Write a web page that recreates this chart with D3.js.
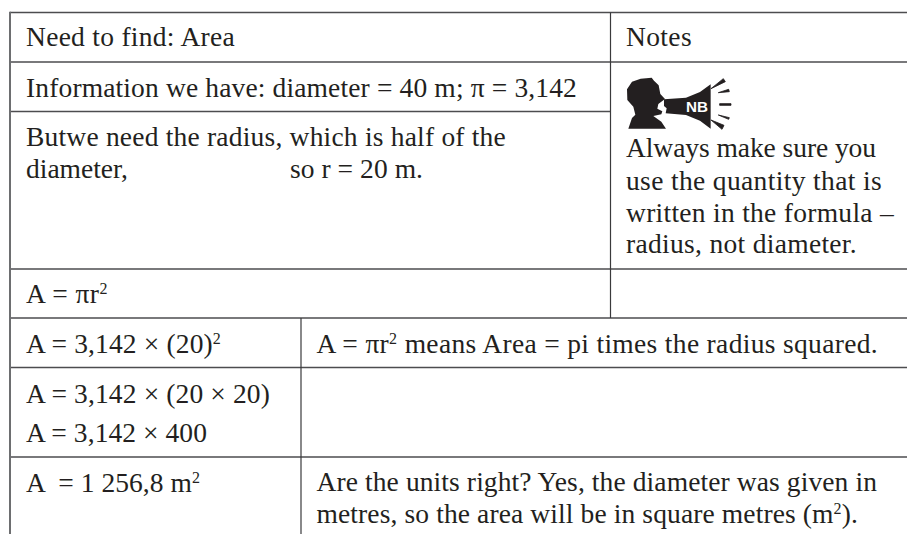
<!DOCTYPE html>
<html>
<head>
<meta charset="utf-8">
<script src="https://cdn.jsdelivr.net/npm/d3@7"></script>
<style>
  html, body { margin: 0; padding: 0; background: #fff; }
  text { font-family: "Liberation Serif", serif; font-size: 27.5px; fill: #231f20; }
</style>
</head>
<body>
<div id="chart"></div>
<script>
// table content, ^ marks a superscript
var colKeys = ["work", "explain", "notes"];
var rowKeys = ["find", "info", "radius", "formula", "sub", "expand", "answer"];

var workLines = [
  "Need to find: Area",
  "Information we have: diameter = 40 m; π = 3,142",
  "Butwe need the radius, which is half of the",
  "diameter,",
  "A = πr^2",
  "A = 3,142 × (20)^2",
  "A = 3,142 × (20 × 20)",
  "A = 3,142 × 400",
  "A  = 1 256,8 m^2"
];
var explainLines = [
  "A = πr^2 means Area = pi times the radius squared.",
  "Are the units right? Yes, the diameter was given in",
  "metres, so the area will be in square metres (m^2)."
];
var noteLines = [
  "Notes",
  "Always make sure you",
  "use the quantity that is",
  "written in the formula –",
  "radius, not diameter."
];
var gapLines = ["so r = 20 m."];

var w = 907, h = 534;

var colX = d3.scaleOrdinal(colKeys, [10, 301, 610.5]);
var rowY = d3.scaleOrdinal(rowKeys, [12.5, 62, 111.5, 269, 318, 367.5, 457]);

var workY = d3.scaleOrdinal(workLines, [46, 96.7, 145.7, 178, 303, 353, 402.7, 441.7, 491.7]);
var explainY = d3.scaleOrdinal(explainLines, [352.7, 491, 522.7]);
var noteY = d3.scaleOrdinal(noteLines, [46, 157, 190, 221.7, 253]);

// right edge of each line in the picture, the serif differs so spacing is fitted to it
var workEnd = d3.scaleOrdinal(workLines, [235, 577, 506, 128, 108, 221, 270, 207, 200]);
var explainEnd = d3.scaleOrdinal(explainLines, [878, 877, 858]);
var noteEnd = d3.scaleOrdinal(noteLines, [692, 876, 882, 894, 857]);
var gapEnd = d3.scaleOrdinal(gapLines, [423]);

var svg = d3.select("#chart").append("svg")
  .attr("width", w)
  .attr("height", h)
  .style("display", "block");

// rules
var rules = svg.append("g");
rowKeys.forEach(function(r) {
  rules.append("line")
    .attr("x1", colX("work"))
    .attr("x2", r == "radius" ? colX("notes") : w)
    .attr("y1", rowY(r))
    .attr("y2", rowY(r))
    .attr("stroke", "#4d4d4f")
    .attr("stroke-width", 1.5);
});
rules.append("line")
  .attr("x1", colX("work")).attr("x2", colX("work"))
  .attr("y1", rowY("find") - 0.7).attr("y2", h)
  .attr("stroke", "#6d6e70").attr("stroke-width", 2);
rules.append("line")
  .attr("x1", colX("notes")).attr("x2", colX("notes"))
  .attr("y1", rowY("find")).attr("y2", rowY("sub"))
  .attr("stroke", "#3a3a3c").attr("stroke-width", 1.2);
rules.append("line")
  .attr("x1", colX("explain")).attr("x2", colX("explain"))
  .attr("y1", rowY("sub")).attr("y2", h)
  .attr("stroke", "#3a3a3c").attr("stroke-width", 1.2);

function writeLine(sel, str) {
  var parts = str.split("^");
  parts.forEach(function(p, i) {
    if (i == 0) {
      sel.append("tspan").text(p);
    } else {
      sel.append("tspan").attr("dy", -9).style("font-size", "16px").text(p[0]);
      if (p.length > 1) sel.append("tspan").attr("dy", 9).text(p.slice(1));
    }
  });
}

function column(lines, x, y, end) {
  svg.append("g").selectAll("text")
    .data(lines)
    .enter()
    .append("text")
    .attr("x", x)
    .attr("y", function(d) { return y(d); })
    .style("white-space", "pre")
    .each(function(d) {
      writeLine(d3.select(this), d);
      var len = this.getComputedTextLength();
      var n = d.replace("^", "").length;
      d3.select(this).style("letter-spacing", (end(d) - x - len) / n + "px");
    });
}

column(workLines, colX("work") + 16, workY, workEnd);
column(explainLines, colX("explain") + 15.5, explainY, explainEnd);
column(noteLines, colX("notes") + 15.5, noteY, noteEnd);
column(gapLines, colX("work") + 280, function() { return workY("diameter,"); }, gapEnd);

// NB icon, traced at 3x so it is scaled down
var icon = svg.append("g")
  .attr("transform", "translate(" + (colX("notes") - 10.5) + ",0) scale(0.3333)");
var outline = d3.line();

var headShape = [[155,233],[122,236],[96,245],[81,268],[82,300],[100,320],[106,344],[96,354],[85,386],[198,386],[184,365],[160,348],[184,343],[187,334],[172,326],[175,312],[195,297],[181,282],[176,256],[162,242]];
var hornShape = [[192,298],[258,293],[300,276],[332,253],[332,386],[300,362],[258,345],[197,340],[200,325],[192,318]];
var rayShapes = [
  [[333,266],[370,236],[376,245]],
  [[355,278],[386,268],[388,275]],
  [[359,311],[393,311],[393,316],[359,316]],
  [[355,345],[388,353],[386,358]],
  [[333,360],[372,376],[366,388]]
];

icon.append("path").attr("d", outline(headShape) + "Z").attr("fill", "#231f20");
icon.append("path").attr("d", outline(hornShape) + "Z").attr("fill", "#231f20");
icon.selectAll(".ray").data(rayShapes).enter().append("path")
  .attr("class", "ray")
  .attr("d", function(d) { return outline(d) + "Z"; })
  .attr("fill", "#231f20")
  .attr("stroke", "#231f20")
  .attr("stroke-width", 2.5);
icon.append("text")
  .attr("x", 291).attr("y", 335)
  .attr("text-anchor", "middle")
  .attr("textLength", 66)
  .attr("lengthAdjust", "spacingAndGlyphs")
  .style("font-family", "'Liberation Sans', sans-serif")
  .style("font-weight", "bold")
  .style("font-size", "44px")
  .style("fill", "#fff")
  .text("NB");
</script>
</body>
</html>
